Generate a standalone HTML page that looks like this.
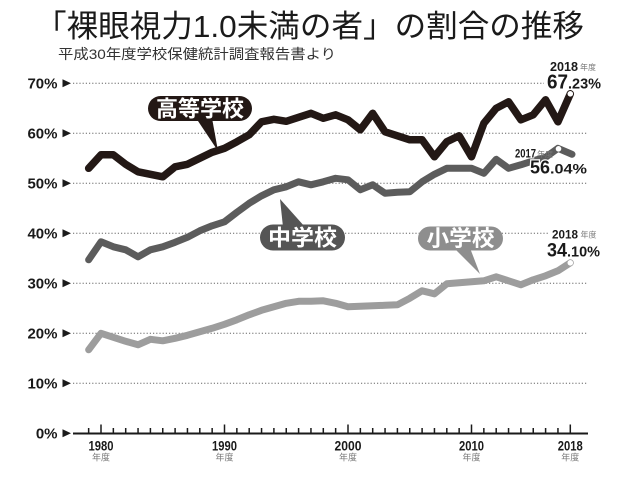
<!DOCTYPE html>
<html>
<head>
<meta charset="utf-8">
<style>
html,body{margin:0;padding:0;background:#fff;}
svg{display:block;}
text{font-family:"Liberation Sans","Noto Sans CJK JP",sans-serif;}
</style>
</head>
<body>
<svg width="630" height="478" viewBox="0 0 630 478" xmlns="http://www.w3.org/2000/svg">
<rect width="630" height="478" fill="#fff"/>

<text x="35" y="37" font-size="31" fill="#1a1a1a" textLength="549" lengthAdjust="spacingAndGlyphs">「裸眼視力1.0未満の者」の割合の推移</text>
<text x="58" y="59" font-size="14" fill="#333" textLength="278" lengthAdjust="spacingAndGlyphs">平成30年度学校保健統計調査報告書より</text>

<g stroke="#666" stroke-width="1" stroke-dasharray="1.2 2" fill="none">
<line x1="73" y1="83.3" x2="588" y2="83.3"/>
<line x1="73" y1="133.3" x2="588" y2="133.3"/>
<line x1="73" y1="183.3" x2="588" y2="183.3"/>
<line x1="73" y1="233.3" x2="588" y2="233.3"/>
<line x1="73" y1="283.3" x2="588" y2="283.3"/>
<line x1="73" y1="333.3" x2="588" y2="333.3"/>
<line x1="73" y1="383.3" x2="588" y2="383.3"/>
</g>

<g font-size="15" font-weight="bold" fill="#1a1a1a" text-anchor="end">
<text x="57.5" y="88.6">70%</text>
<text x="57.5" y="138.6">60%</text>
<text x="57.5" y="188.6">50%</text>
<text x="57.5" y="238.6">40%</text>
<text x="57.5" y="288.6">30%</text>
<text x="57.5" y="338.6">20%</text>
<text x="57.5" y="388.6">10%</text>
<text x="57.5" y="438.6">0%</text>
</g>
<g fill="#1a1a1a">
<polygon points="62.5,79.3 62.5,87.3 71,83.3"/>
<polygon points="62.5,129.3 62.5,137.3 71,133.3"/>
<polygon points="62.5,179.3 62.5,187.3 71,183.3"/>
<polygon points="62.5,229.3 62.5,237.3 71,233.3"/>
<polygon points="62.5,279.3 62.5,287.3 71,283.3"/>
<polygon points="62.5,329.3 62.5,337.3 71,333.3"/>
<polygon points="62.5,379.3 62.5,387.3 71,383.3"/>
<polygon points="62.5,429.3 62.5,437.3 71,433.3"/>
</g>

<line x1="73" y1="433.5" x2="588" y2="433.5" stroke="#1a1a1a" stroke-width="2"/>
<g stroke="#1a1a1a" stroke-width="1.5">
<line x1="88.65" y1="433" x2="88.65" y2="428"/>
<line x1="101" y1="433" x2="101" y2="424.5"/>
<line x1="113.35" y1="433" x2="113.35" y2="428"/>
<line x1="125.7" y1="433" x2="125.7" y2="428"/>
<line x1="138.05" y1="433" x2="138.05" y2="428"/>
<line x1="150.4" y1="433" x2="150.4" y2="428"/>
<line x1="162.75" y1="433" x2="162.75" y2="428"/>
<line x1="175.1" y1="433" x2="175.1" y2="428"/>
<line x1="187.45" y1="433" x2="187.45" y2="428"/>
<line x1="199.8" y1="433" x2="199.8" y2="428"/>
<line x1="212.15" y1="433" x2="212.15" y2="428"/>
<line x1="224.5" y1="433" x2="224.5" y2="424.5"/>
<line x1="236.85" y1="433" x2="236.85" y2="428"/>
<line x1="249.2" y1="433" x2="249.2" y2="428"/>
<line x1="261.55" y1="433" x2="261.55" y2="428"/>
<line x1="273.9" y1="433" x2="273.9" y2="428"/>
<line x1="286.25" y1="433" x2="286.25" y2="428"/>
<line x1="298.6" y1="433" x2="298.6" y2="428"/>
<line x1="310.95" y1="433" x2="310.95" y2="428"/>
<line x1="323.3" y1="433" x2="323.3" y2="428"/>
<line x1="335.65" y1="433" x2="335.65" y2="428"/>
<line x1="348" y1="433" x2="348" y2="424.5"/>
<line x1="360.35" y1="433" x2="360.35" y2="428"/>
<line x1="372.7" y1="433" x2="372.7" y2="428"/>
<line x1="385.05" y1="433" x2="385.05" y2="428"/>
<line x1="397.4" y1="433" x2="397.4" y2="428"/>
<line x1="409.75" y1="433" x2="409.75" y2="428"/>
<line x1="422.1" y1="433" x2="422.1" y2="428"/>
<line x1="434.45" y1="433" x2="434.45" y2="428"/>
<line x1="446.8" y1="433" x2="446.8" y2="428"/>
<line x1="459.15" y1="433" x2="459.15" y2="428"/>
<line x1="471.5" y1="433" x2="471.5" y2="424.5"/>
<line x1="483.85" y1="433" x2="483.85" y2="428"/>
<line x1="496.2" y1="433" x2="496.2" y2="428"/>
<line x1="508.55" y1="433" x2="508.55" y2="428"/>
<line x1="520.9" y1="433" x2="520.9" y2="428"/>
<line x1="533.25" y1="433" x2="533.25" y2="428"/>
<line x1="545.6" y1="433" x2="545.6" y2="428"/>
<line x1="557.95" y1="433" x2="557.95" y2="428"/>
<line x1="570.3" y1="433" x2="570.3" y2="424.5"/>
</g>
<g font-size="14" font-weight="bold" fill="#1a1a1a" text-anchor="middle">
<text x="101" y="450.5" textLength="25" lengthAdjust="spacingAndGlyphs">1980</text>
<text x="224.5" y="450.5" textLength="25" lengthAdjust="spacingAndGlyphs">1990</text>
<text x="348" y="450.5" textLength="27" lengthAdjust="spacingAndGlyphs">2000</text>
<text x="471.5" y="450.5" textLength="25" lengthAdjust="spacingAndGlyphs">2010</text>
<text x="570.3" y="450.5" textLength="25" lengthAdjust="spacingAndGlyphs">2018</text>
</g>
<g font-size="9" fill="#777" text-anchor="middle">
<text x="101" y="460.5">年度</text>
<text x="224.5" y="460.5">年度</text>
<text x="348" y="460.5">年度</text>
<text x="471.5" y="460.5">年度</text>
<text x="570.3" y="460.5">年度</text>
</g>

<rect x="544" y="74" width="62" height="16" fill="#fff"/>
<rect x="549" y="227" width="52" height="13" fill="#fff"/>

<polyline fill="none" stroke="#9d9d9d" stroke-width="7" stroke-linejoin="round" stroke-linecap="round" points="88.65,349.8 101,333.3 113.35,337.3 125.7,341.3 138.05,344.8 150.4,339.3 162.75,340.8 175.1,338.3 187.45,335.3 199.8,331.8 212.15,328.3 224.5,324.3 236.85,319.8 249.2,314.8 261.55,310.3 273.9,306.8 286.25,303.3 298.6,301.3 310.95,301.3 323.3,300.8 335.65,303.3 348,306.8 360.35,306.3 372.7,305.8 385.05,305.3 397.4,304.8 409.75,298.3 422.1,290.8 434.45,293.8 446.8,283.8 459.15,282.8 471.5,281.8 483.85,280.8 496.2,276.8 508.55,280.8 520.9,284.8 533.25,279.8 545.6,275.8 557.95,270.8 570.3,262.8"/>
<circle cx="570.3" cy="262.8" r="2.8" fill="#fff"/>

<polyline fill="none" stroke="#5c5c5c" stroke-width="7" stroke-linejoin="round" stroke-linecap="round" points="88.65,259.8 101,241.8 113.35,246.8 125.7,249.8 138.05,256.8 150.4,249.8 162.75,246.8 175.1,242.3 187.45,237.3 199.8,230.8 212.15,225.8 224.5,221.8 236.85,212.3 249.2,203.3 261.55,195.8 273.9,189.8 286.25,186.8 298.6,181.8 310.95,184.8 323.3,181.8 335.65,178.3 348,179.8 360.35,189.8 372.7,184.8 385.05,193.3 397.4,192.3 409.75,191.8 422.1,181.8 434.45,174.3 446.8,168.3 459.15,168.3 471.5,168.3 483.85,173.3 496.2,159.3 508.55,168.3 520.9,164.8 533.25,160.8 545.6,157.3 557.95,148.3 572,154.3"/>
<circle cx="558.5" cy="148.8" r="2.8" fill="#fff"/>

<polyline fill="none" stroke="#231815" stroke-width="7.5" stroke-linejoin="round" stroke-linecap="round" points="88.65,168.3 101,154.8 113.35,154.8 125.7,164.3 138.05,171.8 150.4,174.3 162.75,176.8 175.1,166.8 187.45,164.3 199.8,158.3 212.15,152.3 224.5,148.3 236.85,141.8 249.2,134.8 261.55,121.8 273.9,119.3 286.25,121.3 298.6,117.3 310.95,113.3 323.3,118.3 335.65,114.8 348,119.8 360.35,129.8 372.7,113.3 385.05,131.8 397.4,135.8 409.75,139.8 422.1,139.8 434.45,156.8 446.8,141.8 459.15,135.8 471.5,156.8 483.85,123.3 496.2,108.3 508.55,101.8 520.9,119.8 533.25,114.8 545.6,99.8 557.95,121.8 570.3,93.8"/>
<circle cx="570.3" cy="93.8" r="2.8" fill="#fff"/>

<polygon points="196,118 212,118 218,151" fill="#231815"/>
<rect x="148" y="96" width="104" height="25" rx="12.5" fill="#231815"/>
<text x="200" y="116.5" font-size="22" font-weight="bold" fill="#fff" text-anchor="middle" textLength="88" lengthAdjust="spacingAndGlyphs">高等学校</text>

<polygon points="280,199 283,227 305,227" fill="#555"/>
<rect x="260" y="224.5" width="85" height="26" rx="13" fill="#555"/>
<text x="302.5" y="245.5" font-size="22" font-weight="bold" fill="#fff" text-anchor="middle" textLength="69" lengthAdjust="spacingAndGlyphs">中学校</text>

<polygon points="454,248 470,248 480,274" fill="#8e8e8e"/>
<rect x="418" y="226.5" width="85" height="24" rx="12" fill="#8e8e8e"/>
<text x="460.5" y="246" font-size="22" font-weight="bold" fill="#fff" text-anchor="middle" textLength="68" lengthAdjust="spacingAndGlyphs">小学校</text>

<g font-weight="bold" fill="#1a1a1a">
<text x="550" y="71" font-size="12.5" textLength="28" lengthAdjust="spacingAndGlyphs">2018</text>
<text x="580" y="70" font-size="8" font-weight="normal" fill="#777">年度</text>
<text x="547" y="88.3" font-size="20" textLength="21" lengthAdjust="spacingAndGlyphs">67</text>
<text x="568" y="88.3" font-size="15" textLength="33" lengthAdjust="spacingAndGlyphs">.23%</text>
<text x="515" y="157.3" font-size="12" textLength="21" lengthAdjust="spacingAndGlyphs" stroke="#fff" stroke-width="2" paint-order="stroke">2017</text>
<text x="537" y="157" font-size="8" font-weight="normal" fill="#777">年度</text>
<text x="530" y="173.3" font-size="18" textLength="20" lengthAdjust="spacingAndGlyphs" stroke="#fff" stroke-width="2.5" paint-order="stroke">56</text>
<text x="550" y="173.3" font-size="14" textLength="37" lengthAdjust="spacingAndGlyphs" stroke="#fff" stroke-width="2.5" paint-order="stroke">.04%</text>
<text x="552" y="238.3" font-size="11.5" textLength="26" lengthAdjust="spacingAndGlyphs">2018</text>
<text x="580.5" y="237.5" font-size="8" font-weight="normal" fill="#777">年度</text>
<text x="547" y="256.7" font-size="19" textLength="20" lengthAdjust="spacingAndGlyphs">34</text>
<text x="567" y="256.7" font-size="15" textLength="33" lengthAdjust="spacingAndGlyphs">.10%</text>
</g>
</svg>
</body>
</html>
